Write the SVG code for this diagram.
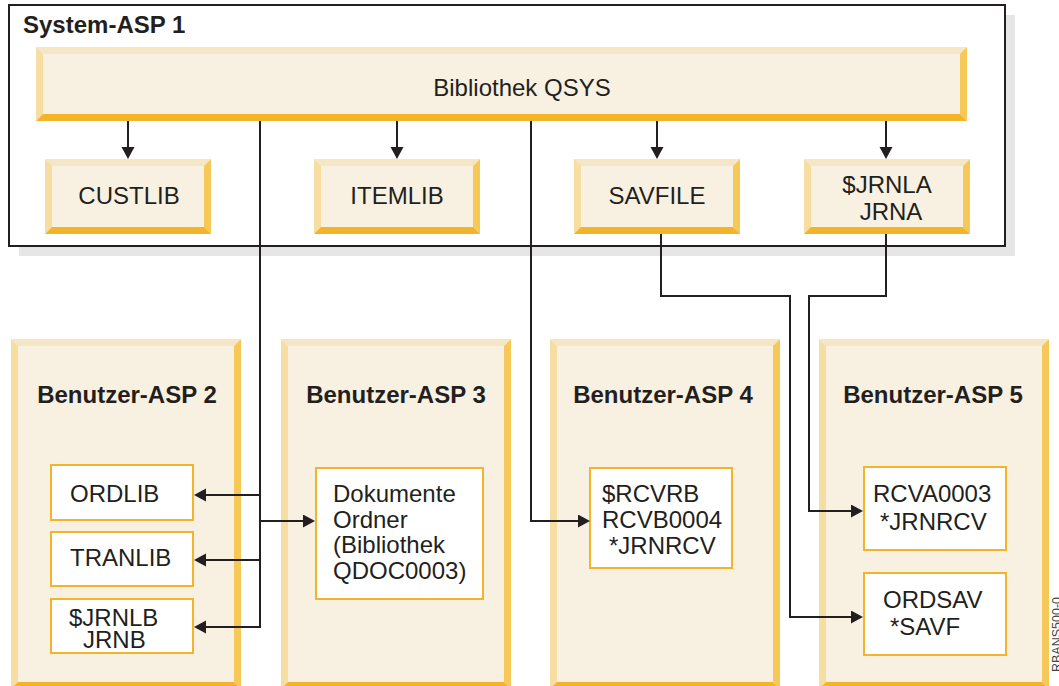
<svg xmlns="http://www.w3.org/2000/svg" width="1059" height="686" viewBox="0 0 1059 686">
<style>
text{font-family:"Liberation Sans",Arial,sans-serif;fill:#231f20;font-size:24px}
.b{font-weight:bold}
.c{text-anchor:middle}
.in{fill:#f8f1e1}
.t{fill:#f5e7c5}
.l{fill:#f6dea3}
.r{fill:#f5c858}
.bo{fill:#f4b42a}
.wb{fill:#fff;stroke:#f4b42a;stroke-width:2}
.ln{fill:none;stroke:#231f20;stroke-width:2}
</style>
<defs>
<marker id="ah" markerUnits="userSpaceOnUse" markerWidth="14" markerHeight="14" refX="10" refY="6.5" orient="auto">
<path d="M0,0 L12,6.5 L0,13 z" fill="#231f20"/>
</marker>
</defs>
<rect width="1059" height="686" fill="#fff"/>
<g id="system-asp1">
<rect x="19" y="15" width="996" height="241" fill="#e6e6e6"/>
<rect x="9" y="5" width="996" height="241" fill="#fff" stroke="#231f20" stroke-width="2"/>
<text class="b" x="23" y="33">System-ASP 1</text>
</g>
<g id="qsys">
<rect class="in" x="36" y="47" width="931" height="74"/>
<polygon class="t" points="36,47 967,47 960,54 43,54"/>
<polygon class="l" points="36,47 43,54 43,114 36,121"/>
<polygon class="r" points="967,47 967,121 960,114 960,54"/>
<polygon class="bo" points="36,121 967,121 960,114 43,114"/>
<text class="c" x="522" y="96">Bibliothek QSYS</text>
</g>
<g id="custlib">
<rect class="in" x="45" y="159" width="166" height="75"/>
<polygon class="t" points="45,159 211,159 204,166 52,166"/>
<polygon class="l" points="45,159 52,166 52,227 45,234"/>
<polygon class="r" points="211,159 211,234 204,227 204,166"/>
<polygon class="bo" points="45,234 211,234 204,227 52,227"/>
<text class="c" x="129" y="204">CUSTLIB</text>
</g>
<g id="itemlib">
<rect class="in" x="314" y="159" width="166" height="75"/>
<polygon class="t" points="314,159 480,159 473,166 321,166"/>
<polygon class="l" points="314,159 321,166 321,227 314,234"/>
<polygon class="r" points="480,159 480,234 473,227 473,166"/>
<polygon class="bo" points="314,234 480,234 473,227 321,227"/>
<text class="c" x="397" y="204">ITEMLIB</text>
</g>
<g id="savfile">
<rect class="in" x="574" y="159" width="166" height="75"/>
<polygon class="t" points="574,159 740,159 733,166 581,166"/>
<polygon class="l" points="574,159 581,166 581,227 574,234"/>
<polygon class="r" points="740,159 740,234 733,227 733,166"/>
<polygon class="bo" points="574,234 740,234 733,227 581,227"/>
<text class="c" x="657" y="204">SAVFILE</text>
</g>
<g id="jrnla">
<rect class="in" x="804" y="159" width="166" height="75"/>
<polygon class="t" points="804,159 970,159 963,166 811,166"/>
<polygon class="l" points="804,159 811,166 811,227 804,234"/>
<polygon class="r" points="970,159 970,234 963,227 963,166"/>
<polygon class="bo" points="804,234 970,234 963,227 811,227"/>
<text class="c" x="887" y="193">$JRNLA</text>
<text class="c" x="891" y="220">JRNA</text>
</g>
<g id="asp2">
<rect class="in" x="11" y="339" width="230" height="350"/>
<polygon class="t" points="11,339 241,339 234,346 18,346"/>
<polygon class="l" points="11,339 18,346 18,682 11,689"/>
<polygon class="r" points="241,339 241,689 234,682 234,346"/>
<polygon class="bo" points="11,689 241,689 234,682 18,682"/>
<text class="b c" x="127" y="403">Benutzer-ASP 2</text>
</g>
<g id="asp3">
<rect class="in" x="281" y="339" width="230" height="350"/>
<polygon class="t" points="281,339 511,339 504,346 288,346"/>
<polygon class="l" points="281,339 288,346 288,682 281,689"/>
<polygon class="r" points="511,339 511,689 504,682 504,346"/>
<polygon class="bo" points="281,689 511,689 504,682 288,682"/>
<text class="b c" x="396" y="403">Benutzer-ASP 3</text>
</g>
<g id="asp4">
<rect class="in" x="550" y="339" width="230" height="350"/>
<polygon class="t" points="550,339 780,339 773,346 557,346"/>
<polygon class="l" points="550,339 557,346 557,682 550,689"/>
<polygon class="r" points="780,339 780,689 773,682 773,346"/>
<polygon class="bo" points="550,689 780,689 773,682 557,682"/>
<text class="b c" x="663" y="403">Benutzer-ASP 4</text>
</g>
<g id="asp5">
<rect class="in" x="819" y="339" width="230" height="350"/>
<polygon class="t" points="819,339 1049,339 1042,346 826,346"/>
<polygon class="l" points="819,339 826,346 826,682 819,689"/>
<polygon class="r" points="1049,339 1049,689 1042,682 1042,346"/>
<polygon class="bo" points="819,689 1049,689 1042,682 826,682"/>
<text class="b c" x="933" y="403">Benutzer-ASP 5</text>
</g>
<g id="ordlib">
<rect class="wb" x="51" y="465" width="142" height="55"/>
<text x="70" y="502">ORDLIB</text>
</g>
<g id="tranlib">
<rect class="wb" x="51" y="532" width="142" height="54"/>
<text x="70" y="566">TRANLIB</text>
</g>
<g id="jrnlb">
<rect class="wb" x="51" y="599" width="142" height="54"/>
<text x="69" y="626">$JRNLB</text>
<text x="83" y="648">JRNB</text>
</g>
<g id="dokumente">
<rect class="wb" x="316" y="468" width="167" height="131"/>
<text x="333" y="502">Dokumente</text>
<text x="333" y="528">Ordner</text>
<text x="333" y="553">(Bibliothek</text>
<text x="333" y="579">QDOC0003)</text>
</g>
<g id="rcvrb">
<rect class="wb" x="590" y="468" width="142" height="100"/>
<text x="602" y="502">$RCVRB</text>
<text x="602" y="528">RCVB0004</text>
<text x="609" y="554">*JRNRCV</text>
</g>
<g id="rcva">
<rect class="wb" x="864" y="467" width="142" height="83"/>
<text x="873" y="502">RCVA0003</text>
<text x="880" y="530">*JRNRCV</text>
</g>
<g id="ordsav">
<rect class="wb" x="864" y="573" width="142" height="82"/>
<text x="883" y="608">ORDSAV</text>
<text x="890" y="635">*SAVF</text>
</g>
<g id="connectors">
<path class="ln" d="M128,121 V157" marker-end="url(#ah)"/>
<path class="ln" d="M397,121 V157" marker-end="url(#ah)"/>
<path class="ln" d="M657,121 V157" marker-end="url(#ah)"/>
<path class="ln" d="M886,121 V157" marker-end="url(#ah)"/>
<path class="ln" d="M260,121 V627 H196" marker-end="url(#ah)"/>
<path class="ln" d="M260,495 H196" marker-end="url(#ah)"/>
<path class="ln" d="M260,560 H196" marker-end="url(#ah)"/>
<path class="ln" d="M260,521 H313" marker-end="url(#ah)"/>
<path class="ln" d="M531,121 V521 H588" marker-end="url(#ah)"/>
<path class="ln" d="M661,234 V296 H790 V617 H861" marker-end="url(#ah)"/>
<path class="ln" d="M886,234 V296 H809 V511 H861" marker-end="url(#ah)"/>
</g>
<text transform="translate(1061,672) rotate(-90)" style="font-size:12.5px;fill:#444">RBANS500-0</text>
</svg>
